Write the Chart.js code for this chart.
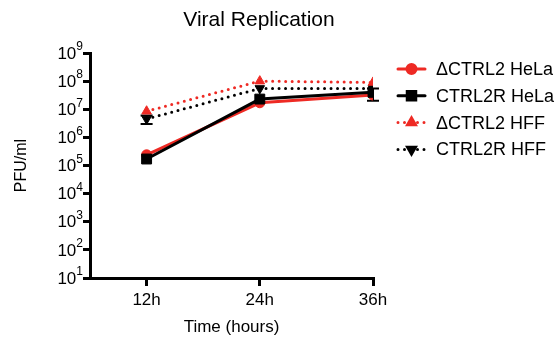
<!DOCTYPE html>
<html>
<head>
<meta charset="utf-8">
<script src="https://cdn.jsdelivr.net/npm/chart.js@4.4.0/dist/chart.umd.min.js"></script>
<style>
  body { margin: 0; background: #fff; }
  #wrap { width: 558px; height: 338px; }
</style>
</head>
<body>
<div id="wrap"><canvas id="chart" width="558" height="338"></canvas></div>
<script>
// Time points and tick labels
const hours = [12, 24, 36];
const hourLabels = ['12h', '24h', '36h'];
const yTicks = [1e1, 1e2, 1e3, 1e4, 1e5, 1e6, 1e7, 1e8, 1e9];

// PFU/ml
const ctrl2HeLa = [2.4e5, 1.7e7, 3.2e7];
const ctrl2rHeLa = [1.7e5, 2.3e7, 4.0e7];
const ctrl2HFF = [8.5e6, 1.0e8, 9.0e7];
const ctrl2rHFF = [4.5e6, 5.5e7, 5.5e7];

// Error bars [low, high], null where hidden behind the marker
const ctrl2HeLaErr = [null, null, null];
const ctrl2rHeLaErr = [null, null, [2.0e7, 5.5e7]];
const ctrl2HFFErr = [null, null, null];
const ctrl2rHFFErr = [[3.0e6, 6.0e6], null, null];

const RED = '#ee2a24';
const FONT = 'Liberation Sans, Arial, Helvetica, sans-serif';

function pts(vals){
  return hours.map((h, i) => ({x: h, y: vals[i]}));
}

const series = [
  {label: '\u0394CTRL2 HeLa', data: ctrl2HeLa, err: ctrl2HeLaErr, color: RED, dash: [], style: 'circle', radius: 5, legR: 4.5, rot: 0, order: 1},
  {label: 'CTRL2R HeLa', data: ctrl2rHeLa, err: ctrl2rHeLaErr, color: '#000', dash: [], style: 'rect', radius: 7, legR: 6, rot: 0, order: 0},
  {label: '\u0394CTRL2 HFF', data: ctrl2HFF, err: ctrl2HFFErr, color: RED, dash: [0, 6.5], style: 'triangle', radius: 5.5, legR: 4.5, rot: 0, order: 2},
  {label: 'CTRL2R HFF', data: ctrl2rHFF, err: ctrl2rHFFErr, color: '#000', dash: [0, 6.5], style: 'triangle', radius: 5.5, legR: 4.5, rot: 180, order: 3}
];

// Error bars, title, custom y tick labels and legend
const decorPlugin = {
  id: 'decor',
  beforeDatasetsDraw(chart){
    const ctx = chart.ctx;
    const xs = chart.scales.x, ys = chart.scales.y;
    ctx.save();
    series.forEach(s => {
      s.err.forEach((e, i) => {
        if(!e) return;
        let x = xs.getPixelForValue(hours[i]);
        let y1 = ys.getPixelForValue(e[0]);
        let y2 = ys.getPixelForValue(e[1]);
        ctx.strokeStyle = s.color;
        ctx.lineWidth = 2;
        ctx.beginPath();
        ctx.moveTo(x, y1); ctx.lineTo(x, y2);
        ctx.moveTo(x - 6, y1); ctx.lineTo(x + 6, y1);
        ctx.moveTo(x - 6, y2); ctx.lineTo(x + 6, y2);
        ctx.stroke();
      });
    });
    ctx.restore();
  },
  afterDraw(chart){
    const ctx = chart.ctx;
    const ys = chart.scales.y;
    ctx.save();
    ctx.fillStyle = '#000';

    // title
    ctx.font = '21px ' + FONT;
    ctx.textAlign = 'center';
    ctx.textBaseline = 'middle';
    ctx.fillText('Viral Replication', 259, 20);

    // y tick labels as 10 with superscript exponent
    yTicks.forEach(v => {
      let y = ys.getPixelForValue(v);
      let exp = String(Math.round(Math.log10(v)));
      ctx.font = '12px ' + FONT;
      let ew = ctx.measureText(exp).width;
      ctx.textAlign = 'left';
      ctx.textBaseline = 'middle';
      ctx.fillText(exp, 83 - ew, y - 6);
      ctx.font = '17px ' + FONT;
      ctx.textAlign = 'right';
      ctx.fillText('10', 83 - ew, y + 1);
    });

    // legend: line sample with marker
    series.forEach((s, i) => {
      let y = 69 + i * 26.8;
      ctx.strokeStyle = s.color;
      ctx.fillStyle = s.color;
      ctx.lineWidth = 3;
      ctx.lineCap = 'round';
      ctx.setLineDash(s.dash);
      ctx.beginPath();
      ctx.moveTo(398, y); ctx.lineTo(425, y);
      ctx.stroke();
      ctx.setLineDash([]);
      Chart.helpers.drawPoint(ctx, {pointStyle: s.style, rotation: s.rot, radius: s.legR, borderWidth: 1}, 411.5, y);
      ctx.fill();
      ctx.fillStyle = '#000';
      ctx.font = '18px ' + FONT;
      ctx.textAlign = 'left';
      ctx.textBaseline = 'middle';
      ctx.fillText(s.label, 436, y + 1);
    });
    ctx.restore();
  }
};

new Chart(document.getElementById('chart'), {
  type: 'line',
  data: {
    datasets: series.map(s => ({
      label: s.label,
      data: pts(s.data),
      borderColor: s.color,
      backgroundColor: s.color,
      borderWidth: 3,
      borderDash: s.dash,
      borderCapStyle: 'round',
      pointStyle: s.style,
      pointRotation: s.rot,
      pointRadius: s.radius,
      pointBorderWidth: 1,
      tension: 0,
      order: s.order
    }))
  },
  options: {
    responsive: false,
    animation: false,
    events: [],
    layout: {padding: {top: 53, right: 185, left: 0, bottom: 0}},
    plugins: {
      legend: {display: false},
      tooltip: {enabled: false}
    },
    scales: {
      x: {
        type: 'linear',
        min: 6,
        max: 36,
        afterFit(scale){ scale.height = 60; },
        afterBuildTicks(scale){ scale.ticks = hours.map(v => ({value: v})); },
        ticks: {
          color: '#000',
          font: {family: FONT, size: 17},
          padding: 4,
          maxRotation: 0,
          callback: (v) => hourLabels[hours.indexOf(v)]
        },
        grid: {drawOnChartArea: false, drawTicks: true, tickLength: 8, lineWidth: 3, color: '#000'},
        border: {display: true, width: 3, color: '#000'},
        title: {display: true, text: 'Time (hours)', color: '#000', font: {family: FONT, size: 17}, padding: {top: 0, bottom: 0}}
      },
      y: {
        type: 'logarithmic',
        min: 10,
        max: 1e9,
        afterFit(scale){ scale.width = 90; },
        afterBuildTicks(scale){ scale.ticks = yTicks.map(v => ({value: v})); },
        ticks: {display: false},
        grid: {drawOnChartArea: false, drawTicks: true, tickLength: 7, lineWidth: 3, color: '#000'},
        border: {display: true, width: 3, color: '#000'},
        title: {display: true, text: 'PFU/ml', color: '#000', font: {family: FONT, size: 16}, padding: {top: 12, bottom: 0}}
      }
    }
  },
  plugins: [decorPlugin]
});
</script>
</body>
</html>
